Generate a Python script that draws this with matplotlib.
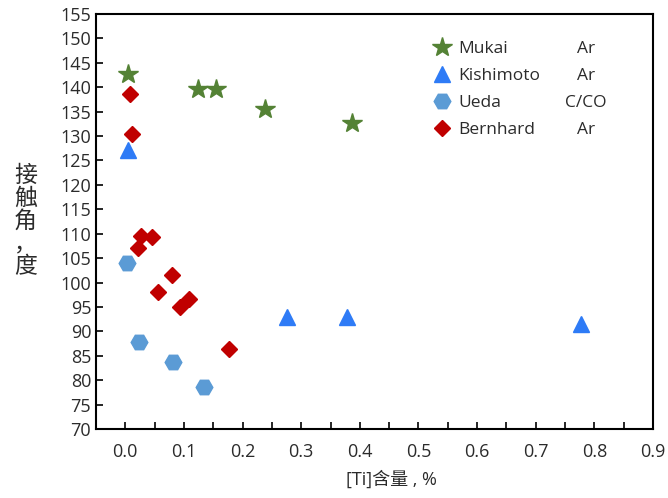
import matplotlib
matplotlib.use("Agg")
import matplotlib.pyplot as plt
from matplotlib.ticker import MultipleLocator

plt.rcParams['font.family'] = ['Open Sans', 'Noto Sans CJK SC', 'DejaVu Sans']

# data
mukai_x = [0.005, 0.124, 0.155, 0.239, 0.386]
mukai_y = [142.8, 139.6, 139.6, 135.6, 132.6]

kishimoto_x = [0.004, 0.275, 0.378, 0.778]
kishimoto_y = [127.2, 93.0, 93.0, 91.6]

ueda_x = [0.003, 0.023, 0.082, 0.135]
ueda_y = [104.0, 87.9, 83.7, 78.5]

bernhard_x = [0.008, 0.012, 0.027, 0.046, 0.022, 0.080, 0.055, 0.109, 0.094, 0.177]
bernhard_y = [138.7, 130.5, 109.6, 109.3, 107.0, 101.6, 98.0, 96.7, 95.0, 86.3]

names = ['Mukai', 'Kishimoto', 'Ueda', 'Bernhard']
atmos = ['Ar', 'Ar', 'C/CO', 'Ar']
xticks = [0.0, 0.1, 0.2, 0.3, 0.4, 0.5, 0.6, 0.7, 0.8, 0.9]

fig = plt.figure(figsize=(6.68, 4.98), dpi=100)
ax = fig.add_axes([0.1437, 0.1386, 0.8338, 0.8333])

ax.plot(mukai_x, mukai_y, '*', color='#548235', markersize=15, label=names[0])
ax.plot(kishimoto_x, kishimoto_y, '^', color='#2E7BF6', markersize=11, label=names[1])
ax.plot(ueda_x, ueda_y, 'H', color='#5B9BD5', markersize=12, label=names[2])
ax.plot(bernhard_x, bernhard_y, 'D', color='#C00000', markersize=8.5, label=names[3])

ax.set_xlim(-0.05, 0.9)
ax.set_ylim(70, 155)
ax.set_xticks(xticks)
ax.set_xticklabels([f'{v:.1f}' for v in xticks])
ax.xaxis.set_minor_locator(MultipleLocator(0.05))
ax.yaxis.set_major_locator(MultipleLocator(5))

ax.tick_params(which='both', direction='in', length=5, width=1.2,
               labelsize=13, labelcolor='#2b2b2b', top=False, right=False)
ax.tick_params(axis='x', which='major', pad=10)
for s in ax.spines.values():
    s.set_linewidth(1.5)

ax.set_xlabel('[Ti]含量 , %', fontsize=13, color='#2b2b2b')
ax.xaxis.set_label_coords(0.531, -0.1)
fig.text(0.038, 0.556, '\n'.join('接触角，度'), fontsize=16.5, color='#2b2b2b',
         ha='center', va='center', linespacing=1.0,
         family=['Noto Sans CJK SC', 'DejaVu Sans'])

leg = ax.legend(loc='upper left', bbox_to_anchor=(0.59, 0.953), frameon=False,
                fontsize=12.5, handletextpad=0.35, labelspacing=0.64,
                handlelength=1.2, borderaxespad=0)
for t in leg.get_texts():
    t.set_color('#2b2b2b')

# second legend column, aligned with the legend rows
fig.canvas.draw()
inv = fig.transFigure.inverted()
for a, t in zip(atmos, leg.get_texts()):
    bb = t.get_window_extent()
    yc = inv.transform((0, (bb.y0 + bb.y1) / 2))[1]
    fig.text(0.877, yc, a, fontsize=12.5, color='#2b2b2b', ha='center', va='center')

fig.savefig('out.png', dpi=100)
